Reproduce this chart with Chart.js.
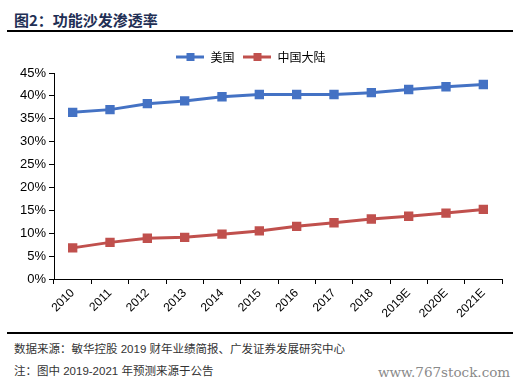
<!DOCTYPE html>
<html>
<head>
<meta charset="utf-8">
<script src="https://cdn.jsdelivr.net/npm/chart.js@4/dist/chart.umd.min.js"></script>
<style>
	html, body { margin: 0; padding: 0; background: #fff; }
	body { width: 523px; height: 386px; position: relative; overflow: hidden; font-family: Arial, "Liberation Sans", "Noto Sans CJK SC", sans-serif; }
	.title { position: absolute; left: 14px; top: 9px; font-size: 15px; font-weight: bold; color: #1f2f55; font-family: "Noto Sans CJK SC", sans-serif; }
	.rule { position: absolute; left: 7px; width: 506px; height: 2px; background: #000; }
	.note { position: absolute; left: 14px; font-size: 11.5px; color: #333; font-family: Arial, "Liberation Sans", "Noto Sans CJK SC", sans-serif; }
	.mark { position: absolute; left: 378px; top: 364px; font-size: 13.5px; color: #8a8a8a; font-family: "DejaVu Serif", serif; }
	#box { position: absolute; left: 0; top: 38px; width: 523px; height: 292px; }
</style>
</head>
<body>
<div class="title">图2：功能沙发渗透率</div>
<div class="rule" style="top: 30px"></div>
<div id="box"><canvas id="myChart"></canvas></div>
<div class="rule" style="top: 332px"></div>
<div class="note" style="top: 340px">数据来源：敏华控股 2019 财年业绩简报、广发证券发展研究中心</div>
<div class="note" style="top: 362px">注：图中 2019-2021 年预测来源于公告</div>
<div class="mark">www.767stock.com</div>

<script>
const years = ["2010", "2011", "2012", "2013", "2014", "2015", "2016", "2017", "2018", "2019E", "2020E", "2021E"]
const usValues = [36.4, 37.0, 38.3, 38.9, 39.8, 40.3, 40.3, 40.3, 40.7, 41.4, 42.0, 42.5]
const chinaValues = [6.8, 8.0, 8.9, 9.1, 9.8, 10.5, 11.5, 12.3, 13.1, 13.7, 14.4, 15.2]
const seriesNames = ["美国", "中国大陆"]
const yTicks = [0, 5, 10, 15, 20, 25, 30, 35, 40, 45]

const blue = "#4472c4"
const red = "#c0504d"

// little line + square picture for the legend
function legendIcon(color) {
	const c = document.createElement("canvas")
	c.width = 28
	c.height = 10
	const g = c.getContext("2d")
	g.strokeStyle = color
	g.lineWidth = 3
	g.beginPath()
	g.moveTo(0, 5)
	g.lineTo(28, 5)
	g.stroke()
	g.fillStyle = color
	g.fillRect(10, 1, 8, 8)
	return c
}

const icons = [legendIcon(blue), legendIcon(red)]

new Chart("myChart", {
	type: "line",
	data: {
		labels: years,
		datasets: [
			{
				label: seriesNames[0],
				data: usValues,
				borderColor: blue,
				backgroundColor: blue,
				borderWidth: 3,
				pointStyle: "rect",
				pointRadius: 4.5,
				pointHoverRadius: 4.5
			},
			{
				label: seriesNames[1],
				data: chinaValues,
				borderColor: red,
				backgroundColor: red,
				borderWidth: 3,
				pointStyle: "rect",
				pointRadius: 4.5,
				pointHoverRadius: 4.5
			}
		]
	},
	options: {
		responsive: true,
		maintainAspectRatio: false,
		animation: false,
		layout: { padding: { left: 0, right: 21, top: 4, bottom: 0 } },
		plugins: {
			tooltip: { enabled: false },
			legend: {
				display: true,
				labels: {
					usePointStyle: true,
					pointStyleWidth: 28,
					padding: 9,
					color: "#000",
					font: { family: "'Noto Sans CJK SC'", size: 12 },
					generateLabels: (chart) => chart.data.datasets.map((ds, i) => ({
						text: ds.label,
						pointStyle: icons[i],
						fillStyle: ds.borderColor,
						strokeStyle: ds.borderColor,
						lineWidth: 0,
						fontColor: "#000",
						datasetIndex: i
					}))
				}
			}
		},
		scales: {
			x: {
				offset: true,
				afterFit: (axis) => { axis.height = 51 },
				grid: {
					offset: true,
					drawOnChartArea: false,
					drawTicks: true,
					tickLength: 5,
					color: "#000"
				},
				border: { color: "#000", width: 1 },
				ticks: {
					minRotation: 45,
					maxRotation: 45,
					color: "#000",
					padding: 2,
					font: { family: "Arial, 'Liberation Sans'", size: 12 }
				}
			},
			y: {
				min: 0,
				max: 45,
				afterFit: (axis) => { axis.width = 54 },
				afterBuildTicks: (axis) => { axis.ticks = yTicks.map(v => ({ value: v })) },
				grid: {
					drawOnChartArea: false,
					drawTicks: true,
					tickLength: 5,
					color: "#000"
				},
				border: { color: "#000", width: 1 },
				ticks: {
					color: "#000",
					padding: 3,
					font: { family: "Arial, 'Liberation Sans'", size: 13 },
					callback: (v) => v + "%"
				}
			}
		}
	}
})
</script>
</body>
</html>
